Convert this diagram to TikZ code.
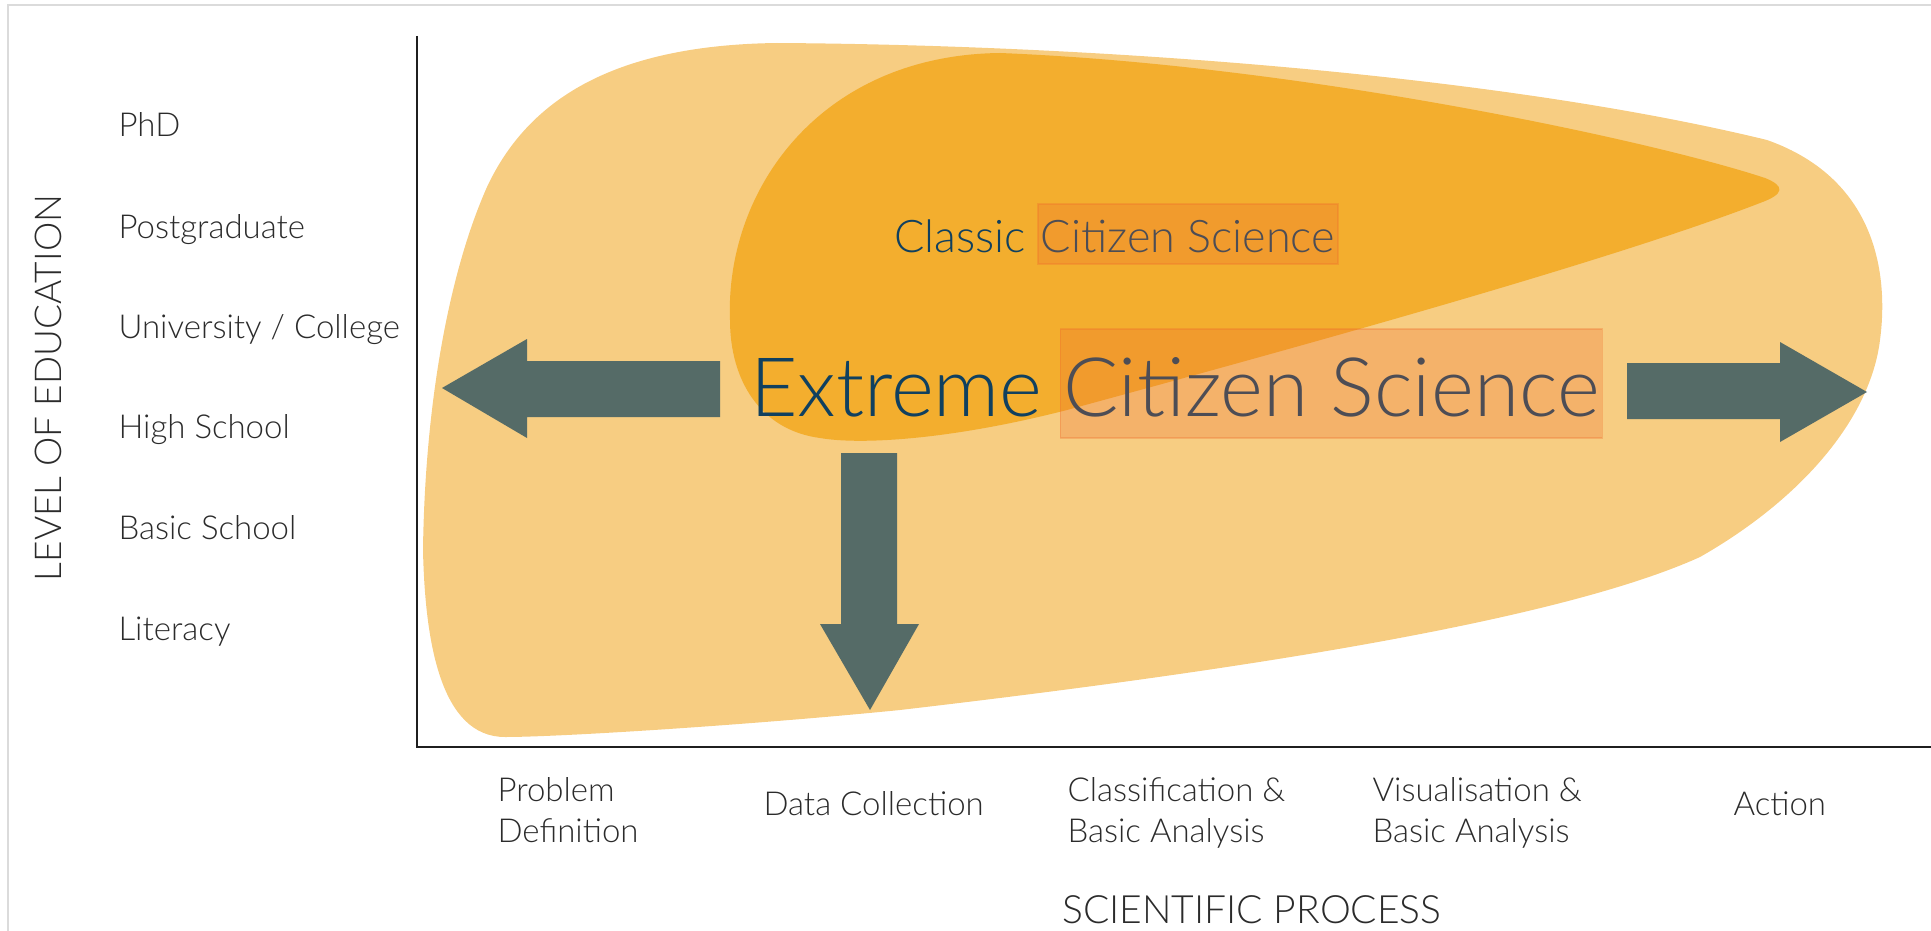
\documentclass[tikz,border=0pt]{standalone}
\usepackage{fontspec}
\setmainfont{Lato Light}
\usetikzlibrary{positioning}

\definecolor{blobout}{HTML}{F7CD82}
\definecolor{blobin}{HTML}{F3AE2E}
\definecolor{arrowgrey}{HTML}{556B67}
\definecolor{hlorange}{HTML}{EF6A2B}
\definecolor{inkblue}{HTML}{10405F}
\definecolor{inkgrey}{HTML}{4D4D55}
\definecolor{labelink}{HTML}{2B2B2B}

\begin{document}
\begin{tikzpicture}[
        x=1pt, y=-1pt,
        level/.style={anchor=base west, text=labelink, font=\fontsize{33}{41}\selectfont},
        stage/.style={anchor=base west, align=left, text=labelink, font=\fontsize{33}{41}\selectfont},
        axistitle/.style={text=labelink, font=\fontsize{39}{44}\selectfont},
        fatarrow/.style={fill=arrowgrey},
        hl/.style={
            fill=hlorange, fill opacity=0.27, text opacity=1,
            draw=hlorange, draw opacity=0.3, line width=1.5pt,
            inner xsep=3pt,
        },
    ]
    \useasboundingbox (0,0) rectangle (1931,931);

    % frame
    \draw[black!14, line width=2pt] (8,931) -- (8,5) -- (1931,5);

    % outer blob
    \fill[blobout] (777,43)
        .. controls (1100,45) and (1500,75) .. (1767,140)
        .. controls (1880,180) and (1888,280) .. (1880,340)
        .. controls (1870,420) and (1800,500) .. (1700,557)
        .. controls (1550,625) and (1200,675) .. (900,710)
        .. controls (750,725) and (560,737) .. (505,737)
        .. controls (440,737) and (425,640) .. (423,550)
        .. controls (425,400) and (450,270) .. (487,187)
        .. controls (530,95) and (620,45) .. (777,43) -- cycle;

    % inner blob
    \fill[blobin] (1000,53)
        .. controls (1300,65) and (1650,140) .. (1765,178)
        .. controls (1785,186) and (1785,194) .. (1760,203)
        .. controls (1600,265) and (1250,360) .. (1067,410)
        .. controls (950,440) and (860,445) .. (820,438)
        .. controls (760,430) and (730,380) .. (730,320)
        .. controls (725,190) and (820,55) .. (1000,53) -- cycle;

    % arrows
    \fill[fatarrow] (442,388) -- (527,339) -- (527,361) -- (720,361)
        -- (720,417) -- (527,417) -- (527,438) -- cycle;
    \fill[fatarrow] (1627,363) -- (1780,363) -- (1780,342) -- (1867,392)
        -- (1780,442) -- (1780,419) -- (1627,419) -- cycle;
    \fill[fatarrow] (841,453) -- (897,453) -- (897,624) -- (919,624)
        -- (870,710) -- (820,624) -- (841,624) -- cycle;

    % axes
    \draw[black!88, line width=2.5pt] (417,36) -- (417,747) -- (1931,747);

    % levels of education
    \node[level] (phd) at (115,137) {PhD};
    \node[level] (pg) at (115,238) {Postgraduate};
    \node[level] (uni) at (115,338) {University / College};
    \node[level] (hs) at (115,438) {High School};
    \node[level] (bs) at (115,539) {Basic School};
    \node[level] (lit) at (115,640) {Literacy};
    \node[axistitle, font=\fontsize{37}{44}\selectfont, rotate=90, anchor=base]
        (ytitle) at (61,388) {LEVEL OF EDUCATION};

    % stages of the scientific process
    \node[stage] (prob) at (494,842) {Problem\\Definition};
    \node[stage] (data) at (760,815) {Data Collection};
    \node[stage] (class) at (1064,842) {Classification \&\\Basic Analysis};
    \node[stage] (vis) at (1369,842) {Visualisation \&\\Basic Analysis};
    \node[stage] (act) at (1730,815) {Action};
    \node[axistitle, anchor=base] (xtitle) at (1252,923) {SCIENTIFIC PROCESS};

    % classic citizen science
    \node[anchor=base west, inner xsep=0pt, text=inkblue,
        font=\fontsize{45}{50}\selectfont] (ccs) at (894,252) {Classic};
    \node[hl, base right=11pt of ccs, text=inkgrey, font=\fontsize{45}{50}\selectfont,
        text height=46pt, text depth=10pt, inner ysep=2pt] (ccsbox) {Citizen Science};

    % extreme citizen science
    \node[anchor=base west, inner xsep=0pt, text=inkblue,
        font=\fontsize{82}{90}\selectfont] (xcs) at (750,416) {Extreme};
    \node[hl, base right=17pt of xcs, text=inkgrey, font=\fontsize{82}{90}\selectfont,
        text height=84pt, text depth=19pt, inner ysep=3pt] (xcsbox) {Citizen Science};
\end{tikzpicture}
\end{document}
